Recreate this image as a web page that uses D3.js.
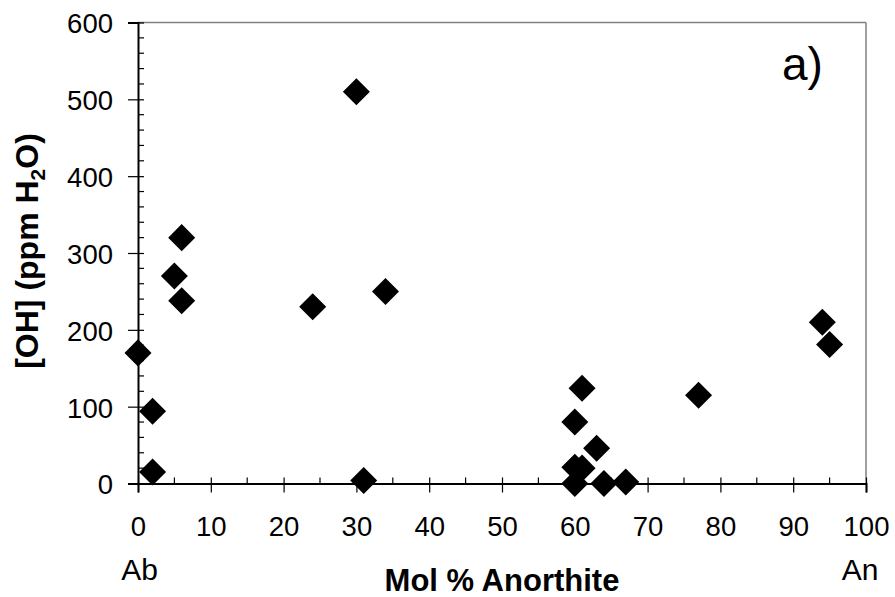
<!DOCTYPE html>
<html>
<head>
<meta charset="utf-8">
<script src="https://cdn.jsdelivr.net/npm/d3@7"></script>
<style>
  html, body { margin: 0; padding: 0; background: #fff; }
  svg { display: block; }
  text { font-family: "Liberation Sans", Arial, sans-serif; fill: #000; }
</style>
</head>
<body>
<svg id="chart" width="895" height="597"></svg>
<script>
// Data
const anorthite = [0, 2, 2, 5, 6, 6, 24, 30, 31, 34, 60, 61, 63, 60, 61, 60, 64, 67, 77, 94, 95];
const ohPpm     = [170, 94, 15, 270, 320, 238, 230, 510, 4, 250, 80, 124, 46, 21, 20, 0, 0, 2, 115, 210, 181];
const xTicks = [0, 10, 20, 30, 40, 50, 60, 70, 80, 90, 100];
const yTicks = [0, 100, 200, 300, 400, 500, 600];
const xTitle = "Mol % Anorthite";
const endLabels = ["Ab", "An"];
const panelLabel = "a)";

const svg = d3.select("#chart");
const L = 138, R = 866, T = 22.5, B = 483.5;
const x = d3.scaleLinear().domain([0, 100]).range([L, R]);
const y = d3.scaleLinear().domain([0, 600]).range([B, T]);

// frame (top & right, grey)
svg.append("line").attr("x1", L).attr("x2", R).attr("y1", T).attr("y2", T)
  .attr("stroke", "#808080").attr("stroke-width", 1.5);
svg.append("line").attr("x1", R).attr("x2", R).attr("y1", T).attr("y2", B)
  .attr("stroke", "#808080").attr("stroke-width", 1.5);

// minor ticks
const yMinor = d3.range(0, 601, 20).filter(v => v % 100 !== 0);
svg.selectAll(".ymin").data(yMinor).enter().append("line")
  .attr("x1", L).attr("x2", L + 6).attr("y1", d => y(d)).attr("y2", d => y(d))
  .attr("stroke", "#000").attr("stroke-width", 1.2);
const xMinor = d3.range(5, 100, 10);
svg.selectAll(".xmin").data(xMinor).enter().append("line")
  .attr("x1", d => x(d)).attr("x2", d => x(d)).attr("y1", B).attr("y2", B - 6)
  .attr("stroke", "#000").attr("stroke-width", 1.2);

// Y axis
const yAxis = d3.axisLeft(y).tickValues(yTicks).tickSize(10).tickPadding(15);
const gy = svg.append("g").attr("transform", `translate(${L},0)`).call(yAxis);
gy.select(".domain").attr("stroke", "#000").attr("stroke-width", 2);
gy.selectAll(".tick line").attr("x2", -10).attr("x1", 6).attr("stroke", "#000").attr("stroke-width", 1.2);
gy.selectAll(".tick text").style("font-size", "27.5px").attr("font-family", null).attr("dy", "0.38em");

// X axis
const xAxis = d3.axisBottom(x).tickValues(xTicks).tickSize(9).tickPadding(24);
const gx = svg.append("g").attr("transform", `translate(0,${B})`).call(xAxis);
gx.select(".domain").attr("stroke", "#000").attr("stroke-width", 2);
gx.selectAll(".tick line").attr("y1", -6).attr("y2", 9).attr("stroke", "#000").attr("stroke-width", 1.2);
gx.selectAll(".tick text").style("font-size", "27.5px").attr("font-family", null);

// points (diamonds)
const sym = d3.symbol().type(d3.symbolSquare).size(365);
svg.selectAll(".pt").data(anorthite.map((a, i) => [a, ohPpm[i]])).enter().append("path")
  .attr("d", sym)
  .attr("transform", d => `translate(${x(d[0])},${y(d[1])}) rotate(45)`)
  .attr("fill", "#000");

// Axis titles
svg.append("text").attr("x", (L + R) / 2).attr("y", 591).attr("text-anchor", "middle")
  .style("font-size", "31px").style("font-weight", "bold").text(xTitle);

const yt = svg.append("text").attr("transform", "translate(38,251) rotate(-90)")
  .attr("text-anchor", "middle").style("font-size", "32px").style("font-weight", "bold");
yt.append("tspan").text("[OH] (ppm H");
yt.append("tspan").attr("dy", 7).style("font-size", "21px").text("2");
yt.append("tspan").attr("dy", -7).text("O)");

svg.append("text").attr("x", 139.5).attr("y", 580).attr("text-anchor", "middle")
  .style("font-size", "30px").text(endLabels[0]);
svg.append("text").attr("x", 860).attr("y", 580).attr("text-anchor", "middle")
  .style("font-size", "30px").text(endLabels[1]);

svg.append("text").attr("x", 782).attr("y", 80)
  .style("font-size", "46px").text(panelLabel);
</script>
</body>
</html>
